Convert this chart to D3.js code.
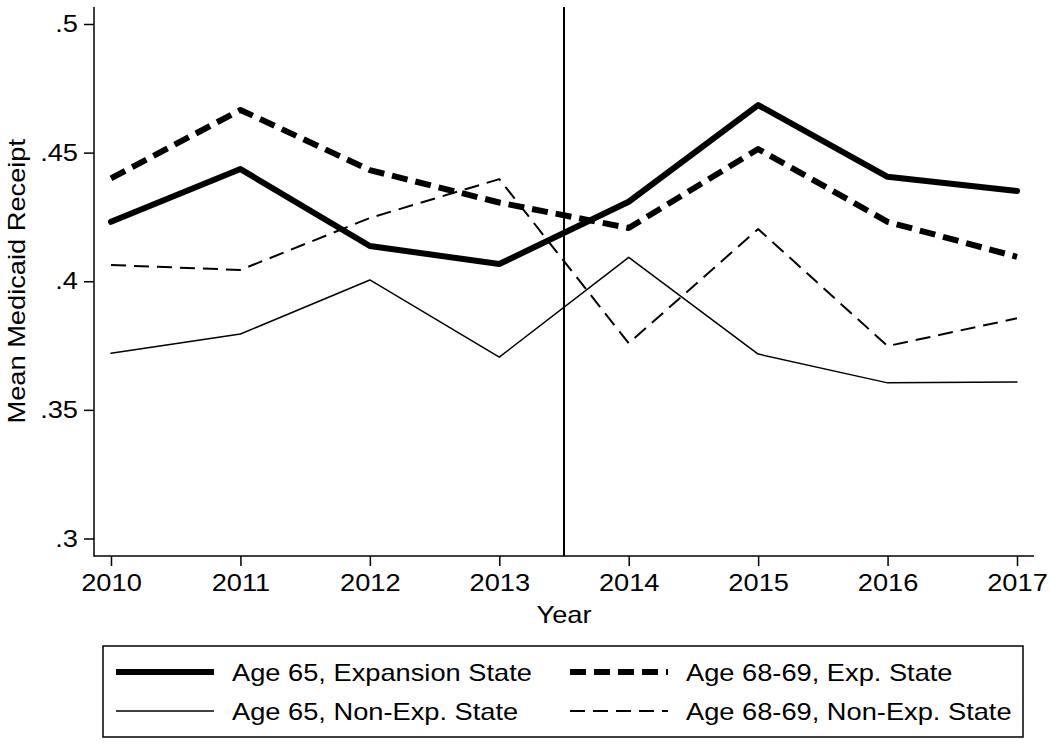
<!DOCTYPE html>
<html><head><meta charset="utf-8">
<script src="https://cdn.jsdelivr.net/npm/d3@7"></script>
<style>
html,body{margin:0;padding:0;background:#fff;}
svg text{font-family:"Liberation Sans",Arial,Helvetica,sans-serif;fill:#000;}
</style></head>
<body><svg id="c" width="1050" height="743"></svg>
<script>
const years = [2010, 2011, 2012, 2013, 2014, 2015, 2016, 2017];
const exp65 = [0.4231, 0.4436, 0.4137, 0.4067, 0.4309, 0.4685, 0.4406, 0.4351];
const exp6869 = [0.4400, 0.4666, 0.4432, 0.4306, 0.4207, 0.4514, 0.4231, 0.4095];
const non65 = [0.3720, 0.3795, 0.4005, 0.3705, 0.4093, 0.3717, 0.3605, 0.3608];
const non6869 = [0.4063, 0.4044, 0.4246, 0.4397, 0.3759, 0.4203, 0.3748, 0.3856];
const yTicks = [0.3, 0.35, 0.4, 0.45, 0.5];
const policyYear = 2013.5;
const seriesNames = ["Age 65, Expansion State", "Age 68-69, Exp. State", "Age 65, Non-Exp. State", "Age 68-69, Non-Exp. State"];

const svg = d3.select("#c");
const STR = 1.135;
function stretch(sel){
  sel.each(function(){
    const w = this.getComputedTextLength();
    this.setAttribute("textLength", w*STR);
    this.setAttribute("lengthAdjust","spacingAndGlyphs");
  });
}

const x = d3.scaleLinear().domain([2010, 2017]).range([111, 1017]);
const y = d3.scaleLinear().domain([0.3, 0.5]).range([538.5, 24]);
const axY = 556, axX = 94;

svg.append("line").attr("x1",axX).attr("x2",axX).attr("y1",7).attr("y2",axY+0.75)
  .attr("stroke","#000").attr("stroke-width",1.5);
svg.append("line").attr("x1",axX).attr("x2",1034).attr("y1",axY).attr("y2",axY)
  .attr("stroke","#000").attr("stroke-width",1.5);

const fmt = v => d3.format(".2~f")(v).replace(/^0/,"");
const gy = svg.append("g").attr("transform",`translate(${axX},0)`)
  .call(d3.axisLeft(y).tickValues(yTicks).tickFormat(fmt).tickSize(10).tickPadding(6));
gy.select(".domain").remove();
gy.selectAll(".tick line").attr("stroke","#000").attr("stroke-width",1.5);
gy.selectAll(".tick text").attr("font-size",24).attr("font-family",null).attr("fill","#000").call(stretch);

const gx = svg.append("g").attr("transform",`translate(0,${axY})`)
  .call(d3.axisBottom(x).tickValues(years).tickFormat(d3.format("d")).tickSize(10).tickPadding(8));
gx.select(".domain").remove();
gx.selectAll(".tick line").attr("stroke","#000").attr("stroke-width",1.5);
gx.selectAll(".tick text").attr("font-size",24).attr("font-family",null).attr("fill","#000").call(stretch);

svg.append("text").attr("x",564).attr("y",623).attr("text-anchor","middle")
  .attr("font-size",24).text("Year").call(stretch);
svg.append("text").attr("transform",`translate(25,${(24+538.5)/2}) rotate(-90)`)
  .attr("text-anchor","middle").attr("font-size",24).text("Mean Medicaid Receipt").call(stretch);

svg.append("line").attr("x1",x(policyYear)).attr("x2",x(policyYear)).attr("y1",7).attr("y2",axY)
  .attr("stroke","#000").attr("stroke-width",2);

const styles = [
  {data: exp65, w: 6, dash: null},
  {data: exp6869, w: 6, dash: "16,8"},
  {data: non65, w: 1.5, dash: null},
  {data: non6869, w: 2, dash: "15,8"}
];
const line = d3.line().x((d,i)=>x(years[i])).y(d=>y(d));
styles.forEach(s=>{
  svg.append("path").datum(s.data).attr("d",line).attr("fill","none")
    .attr("stroke","#000").attr("stroke-width",s.w)
    .attr("stroke-linejoin","round")
    .attr("stroke-linecap", s.dash ? "butt" : "round")
    .attr("stroke-dasharray", s.dash);
});

svg.append("rect").attr("x",103).attr("y",646).attr("width",920).attr("height",91)
  .attr("fill","none").attr("stroke","#000").attr("stroke-width",1.5);
const leg = [
  {s:0, x1:116, x2:214, tx:232, ly:672},
  {s:1, x1:570, x2:668, tx:686, ly:672},
  {s:2, x1:116, x2:214, tx:232, ly:711},
  {s:3, x1:570, x2:668, tx:686, ly:711}
];
leg.forEach(l=>{
  const s = styles[l.s];
  svg.append("line").attr("x1",l.x1).attr("x2",l.x2).attr("y1",l.ly).attr("y2",l.ly)
    .attr("stroke","#000").attr("stroke-width",s.w).attr("stroke-dasharray",s.dash);
  svg.append("text").attr("x",l.tx).attr("y",l.ly+9).attr("font-size",24)
    .text(seriesNames[l.s]).call(stretch);
});
</script></body></html>
